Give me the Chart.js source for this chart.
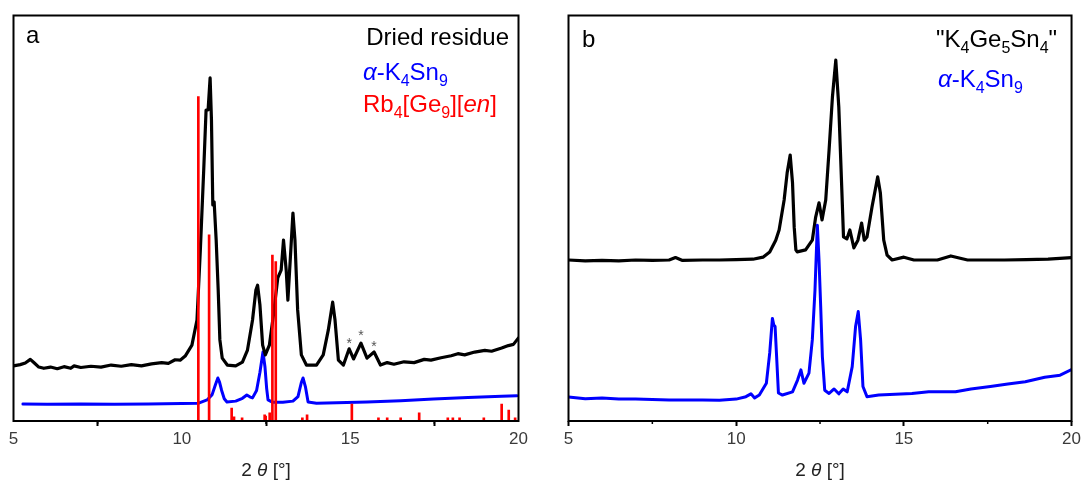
<!DOCTYPE html>
<html>
<head>
<meta charset="utf-8">
<script src="https://cdn.jsdelivr.net/npm/chart.js@4.4.1/dist/chart.umd.min.js"></script>
<style>
  html, body { margin: 0; padding: 0; background: #ffffff; }
  #wrap { position: relative; width: 1084px; height: 486px; overflow: hidden; }
  canvas { position: absolute; top: 0; }
</style>
</head>
<body>
<div id="wrap">
  <canvas id="panelA" width="542" height="486" style="left:0px"></canvas>
  <canvas id="panelB" width="542" height="486" style="left:542px"></canvas>
</div>
<script>
// ---------- Panel a: dried residue, alpha-K4Sn9 and Rb4[Ge9][en] reference ----------
const driedX = [5.0, 5.2, 5.35, 5.5, 5.62, 5.75, 5.9, 6.1, 6.3, 6.5, 6.7, 6.8, 7.0, 7.3, 7.6, 7.9, 8.2, 8.5, 8.8, 9.1, 9.4, 9.6, 9.8, 9.95,
  10.1, 10.3, 10.45, 10.55, 10.65, 10.72, 10.78, 10.84, 10.88, 10.92, 10.96, 11.02, 11.08, 11.13, 11.2, 11.35, 11.6, 11.8, 11.95,
  12.1, 12.2, 12.25, 12.32, 12.4, 12.48, 12.6, 12.72, 12.85, 12.95, 13.02, 13.1, 13.15, 13.22, 13.3, 13.36, 13.44, 13.55, 13.7,
  14.0, 14.2, 14.35, 14.48, 14.55, 14.65, 14.8, 14.97, 15.1, 15.32, 15.5, 15.71, 15.9, 16.1, 16.3, 16.6, 16.9, 17.2, 17.4, 17.7,
  18.0, 18.2, 18.4, 18.7, 19.0, 19.2, 19.5, 19.7, 19.85, 20.0];
const driedY = [13.6, 13.9, 14.3, 15.2, 14.3, 13.3, 13.0, 13.3, 12.9, 13.4, 13.0, 13.6, 13.2, 13.5, 13.3, 13.8, 13.5, 13.9, 13.6, 14.1, 14.4, 14.2, 15.1, 15.0,
  16.0, 18.7, 24.9, 42.2, 61.9, 76.7, 76.7, 84.6, 74.2, 53.3, 54.0, 44.6, 32.3, 20.0, 15.5, 13.8, 13.6, 14.5, 17.5,
  24.9, 32.3, 33.5, 28.6, 18.7, 16.3, 18.7, 26.1, 35.3, 37.2, 44.6, 37.2, 29.8, 39.7, 51.3, 44.6, 27.4, 16.3, 13.8,
  13.8, 16.3, 22.4, 29.3, 24.9, 15.0, 13.8, 17.8, 15.3, 19.2, 15.5, 17.0, 13.8, 14.4, 14.0, 14.6, 14.4, 15.2, 15.0, 15.6,
  16.1, 16.6, 16.3, 17.0, 17.4, 17.2, 18.0, 18.6, 18.9, 20.5];

const alphaAX = [5.28, 6.0, 7.0, 8.0, 9.0, 10.0, 10.5, 10.75, 10.9, 11.0, 11.07, 11.12, 11.18, 11.26, 11.34, 11.6, 11.8, 11.93, 12.03,
  12.1, 12.22, 12.32, 12.41, 12.47, 12.52, 12.56, 12.7, 13.0, 13.3, 13.45, 13.55, 13.6, 13.67, 13.75, 14.0, 15.5, 16.5, 17.47, 18.5, 19.5, 19.95];
const alphaAY = [4.2, 4.1, 4.2, 4.1, 4.2, 4.3, 4.4, 5.2, 6.5, 9.0, 10.6, 9.6, 7.6, 5.5, 4.7, 4.9, 5.6, 6.4, 5.9,
  5.7, 7.5, 12.0, 17.0, 13.3, 8.0, 5.2, 4.6, 4.6, 4.9, 6.0, 9.5, 10.6, 8.5, 4.7, 4.4, 4.7, 5.0, 5.4, 5.8, 6.1, 6.2];

// calculated reflection positions and relative intensities of Rb4[Ge9][en]
const refRbX = [10.49, 10.81, 11.48, 11.55, 11.79, 12.46, 12.49, 12.61, 12.69, 12.79, 13.58, 13.72, 15.05, 15.84, 16.1, 16.5,
  17.05, 17.9, 18.05, 18.25, 18.97, 19.5, 19.71, 19.9];
const refRbY = [80.0, 45.9, 3.2, 1.0, 0.8, 1.5, 1.2, 2.0, 40.9, 39.3, 0.8, 1.5, 4.2, 0.8, 0.8, 0.8,
  2.0, 0.8, 0.8, 0.8, 0.8, 4.2, 2.7, 0.8];

// impurity reflections marked with an asterisk
const starX = [14.97, 15.32, 15.71];
const starY = [18.9, 20.9, 18.2];

// ---------- Panel b: "K4Ge5Sn4" and alpha-K4Sn9 ----------
const mixX = [5.0, 5.5, 6.0, 6.5, 7.0, 7.5, 8.0, 8.19, 8.4, 9.0, 9.5, 10.0, 10.5, 10.8, 11.0, 11.18, 11.28, 11.43, 11.52, 11.61,
  11.68, 11.73, 11.78, 11.82, 12.07, 12.27, 12.37, 12.47, 12.56, 12.67, 12.77, 12.87, 12.97, 13.06, 13.15, 13.2, 13.3, 13.39,
  13.51, 13.63, 13.74, 13.82, 13.9, 14.05, 14.22, 14.3, 14.4, 14.5, 14.65, 15.0, 15.3, 16.0, 16.4, 16.9, 17.5, 18.0, 18.65, 19.3, 20.0];
const mixY = [39.7, 39.5, 39.6, 39.5, 39.7, 39.6, 39.7, 40.3, 39.6, 39.7, 39.7, 39.8, 39.9, 40.4, 41.7, 44.6, 47.1, 54.5, 61.2, 65.6,
  58.7, 47.8, 42.2, 41.7, 42.2, 44.6, 50.3, 53.8, 49.6, 54.5, 66.8, 79.9, 89.0, 77.4, 57.0, 45.4, 44.9, 47.1,
  42.7, 44.6, 48.8, 44.6, 45.4, 52.8, 60.2, 56.2, 44.6, 40.9, 39.7, 40.4, 39.7, 39.7, 40.7, 39.7, 39.7, 39.7, 39.8, 39.9, 40.3];

const alphaBX = [5.0, 5.5, 6.0, 6.5, 7.0, 7.5, 8.0, 8.5, 9.0, 9.5, 10.0, 10.29, 10.44, 10.55, 10.69, 10.9, 11.0, 11.08, 11.12, 11.16,
  11.2, 11.26, 11.38, 11.68, 11.83, 11.93, 12.02, 12.17, 12.27, 12.35, 12.42, 12.47, 12.52, 12.57, 12.64, 12.77, 12.92, 13.06,
  13.19, 13.31, 13.46, 13.56, 13.64, 13.71, 13.78, 13.9, 14.25, 15.24, 15.74, 16.54, 17.0, 17.58, 18.1, 18.62, 19.2, 19.66, 20.0];
const alphaBY = [5.9, 5.5, 5.7, 5.4, 5.4, 5.3, 5.2, 5.2, 5.2, 5.1, 5.4, 6.0, 6.7, 5.7, 6.4, 9.3, 16.8, 25.3, 23.7, 23.3,
  16.8, 6.9, 6.4, 7.2, 10.1, 12.6, 9.3, 11.8, 20.0, 32.3, 48.3, 39.7, 28.2, 15.9, 7.6, 6.8, 7.9, 6.7,
  7.9, 7.2, 13.4, 23.3, 27.0, 20.0, 8.5, 6.0, 6.4, 6.8, 7.2, 7.2, 7.9, 8.5, 9.1, 9.7, 10.8, 11.3, 12.7];

// ---------- axis ----------
const xMin = 5, xMax = 20, xStep = 5;
const minorTicks = [7.5, 12.5, 17.5];

// ---------- text ----------
const labelDried = [['Dried residue', '']];
const labelAlpha = [['α', 'i'], ['-K', ''], ['4', 's'], ['Sn', ''], ['9', 's']];
const labelRb = [['Rb', ''], ['4', 's'], ['[Ge', ''], ['9', 's'], ['][', ''], ['en', 'i'], [']', '']];
const labelMix = [['"K', ''], ['4', 's'], ['Ge', ''], ['5', 's'], ['Sn', ''], ['4', 's'], ['"', '']];
const labelAxis = [['2 ', ''], ['θ', 'i'], [' [°]', '']];

const FONT = "'Liberation Sans', Arial, Helvetica, sans-serif";
const BLACK = '#000000', BLUE = '#0000ff', RED = '#ff0000';
const LABEL_SIZE = 24;

function pts(xs, ys) { return xs.map((x, i) => ({ x: x, y: ys[i] })); }

// Draws a run of text pieces: '' normal, 'i' italic, 's' subscript
function drawRich(ctx, parts, x, y, size, color, align) {
  const fontFor = (st) => {
    if (st === 's') return `${Math.round(size * 0.68)}px ${FONT}`;
    if (st === 'i') return `italic ${size}px ${FONT}`;
    return `${size}px ${FONT}`;
  };
  let total = 0;
  parts.forEach(([t, st]) => { ctx.font = fontFor(st); total += ctx.measureText(t).width; });
  let cx = x;
  if (align === 'right') cx = x - total;
  else if (align === 'center') cx = x - total / 2;
  ctx.fillStyle = color;
  ctx.textBaseline = 'alphabetic';
  ctx.textAlign = 'left';
  parts.forEach(([t, st]) => {
    ctx.font = fontFor(st);
    const dy = st === 's' ? size * 0.27 : 0;
    ctx.fillText(t, cx, y + dy);
    cx += ctx.measureText(t).width;
  });
}

const decor = {
  id: 'decor',
  afterDraw(chart, args, opts) {
    const ctx = chart.ctx;
    const a = chart.chartArea;
    const xs = chart.scales.x;
    ctx.save();
    // frame
    ctx.strokeStyle = '#000';
    ctx.lineWidth = 2;
    ctx.strokeRect(a.left, a.top, a.right - a.left, a.bottom - a.top);
    // minor ticks
    ctx.lineWidth = 1.5;
    minorTicks.forEach(v => {
      const px = xs.getPixelForValue(v);
      ctx.beginPath();
      ctx.moveTo(px, a.bottom);
      ctx.lineTo(px, a.bottom + 3);
      ctx.stroke();
    });
    // panel letter
    ctx.fillStyle = '#000';
    ctx.font = `${LABEL_SIZE}px ${FONT}`;
    ctx.textBaseline = 'alphabetic';
    ctx.fillText(opts.letter, opts.letterX, opts.letterY);
    // labels
    opts.labels.forEach(l => drawRich(ctx, l.parts, l.x, l.y, LABEL_SIZE, l.color, l.align));
    // axis title
    drawRich(ctx, labelAxis, (a.left + a.right) / 2, 476, 19, '#222', 'center');
    // asterisks
    if (opts.stars) {
      ctx.fillStyle = '#555';
      ctx.font = `14px ${FONT}`;
      ctx.textAlign = 'center';
      ctx.textBaseline = 'middle';
      opts.stars.x.forEach((v, i) => {
        ctx.fillText('*', xs.getPixelForValue(v), chart.scales.y.getPixelForValue(opts.stars.y[i]));
      });
    }
    ctx.restore();
  }
};

function makePanel(id, datasets, padding, decorOpts) {
  return new Chart(document.getElementById(id), {
    type: 'line',
    data: { datasets: datasets },
    options: {
      responsive: false,
      animation: false,
      devicePixelRatio: 1,
      layout: { padding: padding },
      plugins: { legend: { display: false }, tooltip: { enabled: false }, decor: decorOpts },
      elements: { point: { radius: 0 }, line: { tension: 0, borderCapStyle: 'round', borderJoinStyle: 'round' } },
      scales: {
        x: {
          type: 'linear', min: xMin, max: xMax, offset: false,
          ticks: { stepSize: xStep, color: '#3a3a3a', font: { family: FONT, size: 17 }, padding: 3, maxRotation: 0, autoSkip: false },
          grid: { drawOnChartArea: false, drawTicks: true, tickLength: 5, tickWidth: 2, tickColor: '#000' },
          border: { display: false },
          afterFit(scale) { scale.height = 65; }
        },
        y: { display: false, min: 0, max: 100 }
      }
    },
    plugins: [decor]
  });
}

makePanel('panelA', [
  { type: 'bar', data: pts(refRbX, refRbY), backgroundColor: RED, barThickness: 2, order: 0 },
  { data: pts(driedX, driedY), borderColor: BLACK, borderWidth: 3.2, order: 1 },
  { data: pts(alphaAX, alphaAY), borderColor: BLUE, borderWidth: 3, order: 2 }
], { left: 13.5, right: 23.5, top: 15.5, bottom: 0 }, {
  letter: 'a', letterX: 26, letterY: 43,
  labels: [
    { parts: labelDried, x: 509, y: 45, color: BLACK, align: 'right' },
    { parts: labelAlpha, x: 363, y: 80, color: BLUE, align: 'left' },
    { parts: labelRb, x: 363, y: 112, color: RED, align: 'left' }
  ],
  stars: { x: starX, y: starY }
});

makePanel('panelB', [
  { data: pts(mixX, mixY), borderColor: BLACK, borderWidth: 3.2, order: 1 },
  { data: pts(alphaBX, alphaBY), borderColor: BLUE, borderWidth: 3, order: 0 }
], { left: 26.5, right: 10.5, top: 15.5, bottom: 0 }, {
  letter: 'b', letterX: 582 - 542, letterY: 47,
  labels: [
    { parts: labelMix, x: 936 - 542, y: 47, color: BLACK, align: 'left' },
    { parts: labelAlpha, x: 938 - 542, y: 87, color: BLUE, align: 'left' }
  ]
});
</script>
</body>
</html>
